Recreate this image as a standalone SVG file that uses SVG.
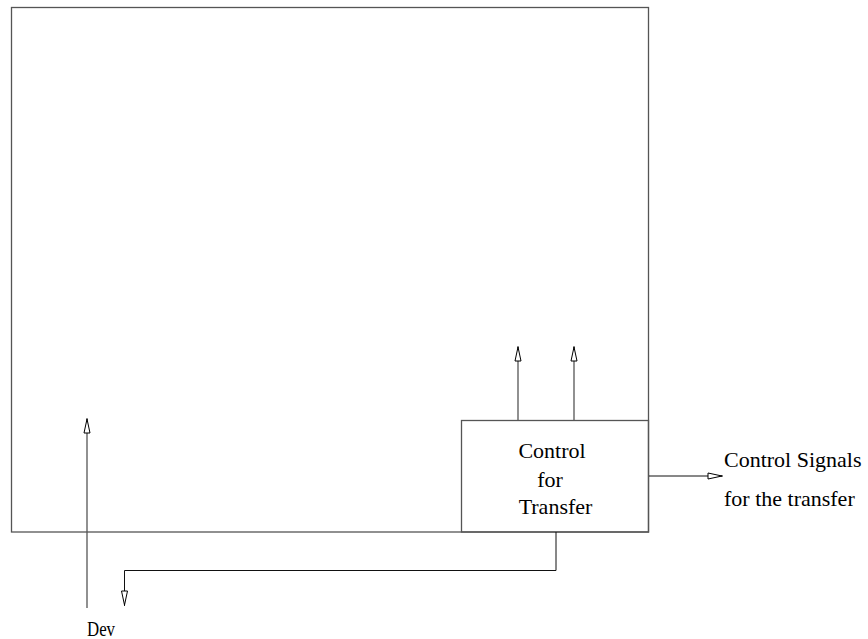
<svg xmlns="http://www.w3.org/2000/svg" width="868" height="639" viewBox="0 0 868 639">
  <style>
    .box { fill: none; stroke: #555; stroke-width: 1.3; }
    .wire { fill: none; stroke: #555; stroke-width: 1.3; }
    .wire-dark { fill: none; stroke: #111; stroke-width: 1; }
    text { font-family: 'Liberation Serif', 'Times New Roman', 'DejaVu Serif', serif; font-size: 22px; fill: #000; }
    .small { font-size: 20px; }
  </style>
  <defs>
    <marker id="open-head" viewBox="0 0 16 8" refX="16" refY="4" markerWidth="16" markerHeight="8" markerUnits="userSpaceOnUse" orient="auto">
      <path d="M1,1 L15,4 L1,7 Z" fill="#fff" stroke="#000" stroke-width="1"/>
    </marker>
  </defs>

  <!-- outer enclosure -->
  <g id="enclosure">
    <rect class="box" x="11.5" y="7.5" width="637" height="524.5"/>
  </g>

  <!-- transfer controller block -->
  <g id="control-for-transfer">
    <rect class="box" x="461.5" y="420.5" width="187" height="111.5"/>
    <text x="552" y="458" text-anchor="middle">Control</text>
    <text x="550" y="487" text-anchor="middle">for</text>
    <text x="555.5" y="514" text-anchor="middle">Transfer</text>
  </g>

  <g id="control-signals-label">
    <text x="724" y="467">Control Signals</text>
    <text x="724" y="506">for the transfer</text>
  </g>

  <g id="dev-label">
    <text class="small" x="87" y="636" textLength="28" lengthAdjust="spacingAndGlyphs">Dev</text>
  </g>

  <!-- connectors -->
  <g id="connectors">
    <line class="wire" x1="518" y1="420" x2="518" y2="346" marker-end="url(#open-head)"/>
    <line class="wire" x1="574" y1="420" x2="574" y2="346" marker-end="url(#open-head)"/>
    <line class="wire-dark" x1="649" y1="476" x2="723" y2="476" marker-end="url(#open-head)"/>
    <line class="wire" x1="87" y1="608" x2="87" y2="418" marker-end="url(#open-head)"/>
    <polyline class="wire-dark" points="556,532 556,570.5 124.5,570.5 124.5,606" marker-end="url(#open-head)"/>
  </g>
</svg>
